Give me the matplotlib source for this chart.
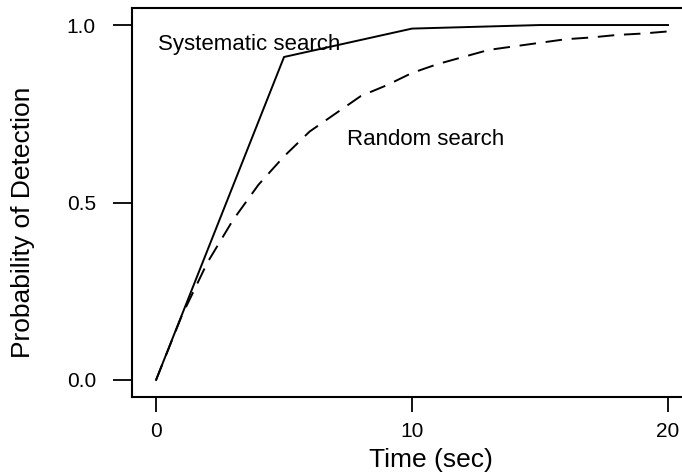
import matplotlib
matplotlib.use("Agg")
import matplotlib.pyplot as plt

plt.rcParams['font.family'] = ['Liberation Sans', 'DejaVu Sans']

# Data
time_sys = [0, 5, 10, 15, 20]
prob_sys = [0.0, 0.91, 0.99, 1.0, 1.0]

time_rand = list(range(0, 21))
prob_rand = [0.0, 0.18, 0.33, 0.45, 0.55, 0.63, 0.70, 0.75, 0.80, 0.83, 0.865,
             0.89, 0.91, 0.93, 0.94, 0.95, 0.96, 0.965, 0.972, 0.976, 0.982]

x_ticks = [0, 10, 20]
y_ticks = [0.0, 0.5, 1.0]
y_ticklabels = ['0.0', '0.5', '1.0']

fig = plt.figure(figsize=(6.82, 4.76), dpi=100)
W, H = 682, 476
left, right, top, bottom = 132, 688, 8, 397
ax = fig.add_axes([left / W, 1 - bottom / H, (right - left) / W, (bottom - top) / H])

ax.plot(time_sys, prob_sys, color='black', lw=1.4, solid_joinstyle='miter')
ax.plot(time_rand, prob_rand, color='black', lw=1.4, linestyle=(0, (8.5, 5)))

ax.set_xlim(-0.94, (right - 156) / 25.6)
ax.set_ylim(-0.048, 1.048)

ax.set_xticks(x_ticks)
ax.set_xticklabels([str(v) for v in x_ticks])
ax.set_yticks(y_ticks)
ax.set_yticklabels(y_ticklabels)

ax.tick_params(axis='x', length=11, width=1.3, pad=7, labelsize=15, direction='out')
ax.tick_params(axis='y', length=14, width=1.3, pad=12, labelsize=15, direction='out')

for s in ax.spines.values():
    s.set_linewidth(1.5)
    s.set_color('black')

ax.text(0.08, 0.93, 'Systematic search', fontsize=16, ha='left', va='baseline')
ax.text(7.46, 0.662, 'Random search', fontsize=16, ha='left', va='baseline')

ax.set_xlabel('Time (sec)', fontsize=19)
ax.xaxis.set_label_coords((431 - left) / (right - left), (bottom - 448) / (bottom - top))
ax.xaxis.label.set_va('top')

ax.set_ylabel('Probability of Detection', fontsize=19)
ax.yaxis.label.set_va('center')
ax.yaxis.set_label_coords((23 - left) / (right - left), (bottom - 222) / (bottom - top))

fig.savefig('out.png', dpi=100)
